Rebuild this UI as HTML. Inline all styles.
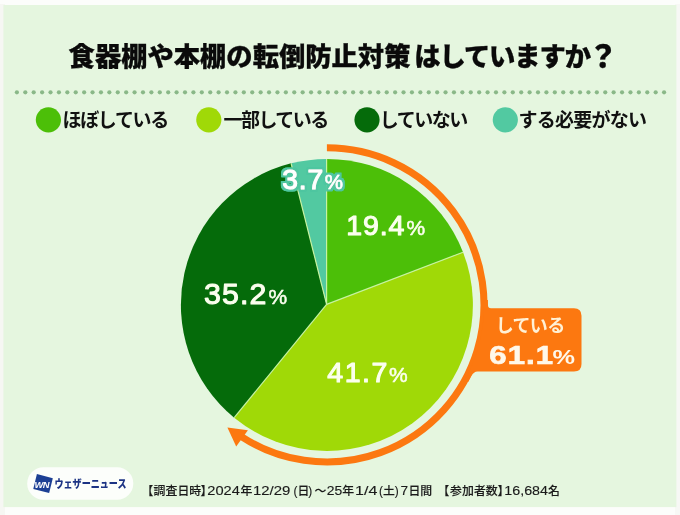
<!DOCTYPE html>
<html lang="ja"><head><meta charset="utf-8"><title>食器棚や本棚の転倒防止対策</title>
<style>
html,body{margin:0;padding:0;background:#fcfdfb;}
body{width:680px;height:515px;overflow:hidden;position:relative;}
svg{display:block;position:absolute;left:0;top:0;filter:blur(0.35px);}
text{font-family:"Liberation Sans","Noto Sans CJK JP",sans-serif;}
.jp{font-family:"Liberation Sans","Noto Sans CJK JP",sans-serif;}
</style></head><body>
<svg width="680" height="515" viewBox="0 0 680 515">
<defs><filter id="ol" x="-10%" y="-20%" width="120%" height="140%"><feMorphology in="SourceAlpha" operator="dilate" radius="2" result="d"/><feGaussianBlur in="d" stdDeviation="0.5" result="db"/><feFlood flood-color="#4fc6a0"/><feComposite in2="db" operator="in" result="o"/><feMerge><feMergeNode in="o"/><feMergeNode in="o"/><feMergeNode in="SourceGraphic"/></feMerge></filter></defs>
<rect x="0" y="0" width="680" height="515" fill="#fcfdfb"/>
<rect x="0" y="4" width="5" height="511" fill="#f6f7f3"/><rect x="675" y="4" width="5" height="511" fill="#f7f8f5"/><rect x="3.4" y="5" width="673" height="502.1" fill="#e5f6df"/>
<text class="jp" y="65.6" font-size="26.3" font-weight="900" fill="#0a0a0a" stroke="#0a0a0a" stroke-width="0.3"><tspan x="68.6">食器棚や本棚の転倒防止対策</tspan><tspan x="414.3" letter-spacing="-1.1">はしていますか</tspan><tspan x="588" y="66.6" font-size="30">？</tspan></text>
<g fill="#8ab888"><circle cx="16.90" cy="92.3" r="2.1"/><circle cx="25.30" cy="92.3" r="2.1"/><circle cx="33.71" cy="92.3" r="2.1"/><circle cx="42.11" cy="92.3" r="2.1"/><circle cx="50.52" cy="92.3" r="2.1"/><circle cx="58.92" cy="92.3" r="2.1"/><circle cx="67.33" cy="92.3" r="2.1"/><circle cx="75.73" cy="92.3" r="2.1"/><circle cx="84.14" cy="92.3" r="2.1"/><circle cx="92.54" cy="92.3" r="2.1"/><circle cx="100.95" cy="92.3" r="2.1"/><circle cx="109.35" cy="92.3" r="2.1"/><circle cx="117.76" cy="92.3" r="2.1"/><circle cx="126.16" cy="92.3" r="2.1"/><circle cx="134.57" cy="92.3" r="2.1"/><circle cx="142.97" cy="92.3" r="2.1"/><circle cx="151.38" cy="92.3" r="2.1"/><circle cx="159.78" cy="92.3" r="2.1"/><circle cx="168.19" cy="92.3" r="2.1"/><circle cx="176.59" cy="92.3" r="2.1"/><circle cx="185.00" cy="92.3" r="2.1"/><circle cx="193.41" cy="92.3" r="2.1"/><circle cx="201.81" cy="92.3" r="2.1"/><circle cx="210.22" cy="92.3" r="2.1"/><circle cx="218.62" cy="92.3" r="2.1"/><circle cx="227.02" cy="92.3" r="2.1"/><circle cx="235.43" cy="92.3" r="2.1"/><circle cx="243.83" cy="92.3" r="2.1"/><circle cx="252.24" cy="92.3" r="2.1"/><circle cx="260.64" cy="92.3" r="2.1"/><circle cx="269.05" cy="92.3" r="2.1"/><circle cx="277.45" cy="92.3" r="2.1"/><circle cx="285.86" cy="92.3" r="2.1"/><circle cx="294.26" cy="92.3" r="2.1"/><circle cx="302.67" cy="92.3" r="2.1"/><circle cx="311.07" cy="92.3" r="2.1"/><circle cx="319.48" cy="92.3" r="2.1"/><circle cx="327.88" cy="92.3" r="2.1"/><circle cx="336.29" cy="92.3" r="2.1"/><circle cx="344.69" cy="92.3" r="2.1"/><circle cx="353.10" cy="92.3" r="2.1"/><circle cx="361.50" cy="92.3" r="2.1"/><circle cx="369.91" cy="92.3" r="2.1"/><circle cx="378.31" cy="92.3" r="2.1"/><circle cx="386.72" cy="92.3" r="2.1"/><circle cx="395.12" cy="92.3" r="2.1"/><circle cx="403.53" cy="92.3" r="2.1"/><circle cx="411.93" cy="92.3" r="2.1"/><circle cx="420.34" cy="92.3" r="2.1"/><circle cx="428.74" cy="92.3" r="2.1"/><circle cx="437.15" cy="92.3" r="2.1"/><circle cx="445.55" cy="92.3" r="2.1"/><circle cx="453.96" cy="92.3" r="2.1"/><circle cx="462.36" cy="92.3" r="2.1"/><circle cx="470.77" cy="92.3" r="2.1"/><circle cx="479.17" cy="92.3" r="2.1"/><circle cx="487.58" cy="92.3" r="2.1"/><circle cx="495.98" cy="92.3" r="2.1"/><circle cx="504.39" cy="92.3" r="2.1"/><circle cx="512.79" cy="92.3" r="2.1"/><circle cx="521.20" cy="92.3" r="2.1"/><circle cx="529.60" cy="92.3" r="2.1"/><circle cx="538.01" cy="92.3" r="2.1"/><circle cx="546.41" cy="92.3" r="2.1"/><circle cx="554.82" cy="92.3" r="2.1"/><circle cx="563.22" cy="92.3" r="2.1"/><circle cx="571.63" cy="92.3" r="2.1"/><circle cx="580.03" cy="92.3" r="2.1"/><circle cx="588.44" cy="92.3" r="2.1"/><circle cx="596.84" cy="92.3" r="2.1"/><circle cx="605.25" cy="92.3" r="2.1"/><circle cx="613.65" cy="92.3" r="2.1"/><circle cx="622.06" cy="92.3" r="2.1"/><circle cx="630.46" cy="92.3" r="2.1"/><circle cx="638.87" cy="92.3" r="2.1"/><circle cx="647.27" cy="92.3" r="2.1"/><circle cx="655.68" cy="92.3" r="2.1"/><circle cx="664.08" cy="92.3" r="2.1"/></g>
<g>
<circle cx="48.4" cy="119.8" r="12.6" fill="#4cbf08"/>
<circle cx="208.8" cy="119.8" r="12.6" fill="#a0d907"/>
<circle cx="367" cy="119.8" r="12.6" fill="#056b0a"/>
<circle cx="505.3" cy="119.8" r="12.6" fill="#52c9a1"/>
</g>
<g font-size="19" font-weight="700" fill="#111">
<text class="jp" x="62.5" y="127" textLength="106.7" lengthAdjust="spacing">ほぼしている</text>
<text class="jp" x="223.5" y="127" textLength="105.7" lengthAdjust="spacing">一部している</text>
<text class="jp" x="379.7" y="127" textLength="88.5" lengthAdjust="spacing">していない</text>
<text class="jp" x="518.5" y="127" textLength="128.5" lengthAdjust="spacing">する必要がない</text>
</g>
<path d="M326.6,304.4 L326.60,158.90 A146,146 0 0 1 463.06,252.21 Z" fill="#4cbf08"/>
<path d="M326.6,304.4 L463.06,252.21 A146,146 0 0 1 234.18,417.68 Z" fill="#a0d907"/>
<path d="M326.6,304.4 L234.18,417.68 A146,146 0 0 1 291.09,163.36 Z" fill="#056b0a"/>
<path d="M326.6,304.4 L291.09,163.36 A146,146 0 0 1 326.60,158.90 Z" fill="#52c9a1"/>
<line x1="326.6" y1="304.4" x2="326.60" y2="158.90" stroke="#c6f2a0" stroke-width="1.2"/>
<line x1="326.6" y1="304.4" x2="463.06" y2="252.21" stroke="#c6f2a0" stroke-width="1.2"/>
<line x1="326.6" y1="304.4" x2="234.18" y2="417.68" stroke="#c6f2a0" stroke-width="1.2"/>
<line x1="326.6" y1="304.4" x2="291.09" y2="163.36" stroke="#c6f2a0" stroke-width="1.2"/>

<path d="M326.90,147.80 A157.1,157.1 0 1 1 240.19,435.90" fill="none" stroke="#fc7810" stroke-width="7.1"/>
<polygon points="227.4,427.6 247.9,430.2 236.2,446.5" fill="#fc7810"/>
<path d="M483.92,300 L487.9,300 L488,305.3 Q488,308.3 491,308.3 L574,308.3 Q581.5,308.3 581.5,315.8 L581.5,364 Q581.5,371.5 574,371.5 L477.5,371.5 Q473.8,371.5 471.4,376 L468.2,382 L463.78,382 A157.1,157.1 0 0 0 483.92,300 Z" fill="#fc7810"/>
<g fill="#fbffee" font-weight="400" stroke="#fbffee" stroke-width="1.1" stroke-linejoin="round">
<text x="346.3" y="234.7" font-size="28.5" letter-spacing="0.9">19.4<tspan font-size="21" dx="1" stroke-width="0.5">%</tspan></text>
<text x="327.2" y="382.2" font-size="28.5" letter-spacing="1.6">41.7<tspan font-size="21" dx="0" stroke-width="0.5">%</tspan></text>
<text x="204" y="304.2" font-size="30.3" letter-spacing="1.1">35.2<tspan font-size="21" dx="1" stroke-width="0.5">%</tspan></text>
</g>
<text x="282.3" y="189.2" font-size="28.2" font-weight="400" fill="#ffffff" stroke="#ffffff" stroke-width="1" stroke-linejoin="round" letter-spacing="0.9" filter="url(#ol)">3.7<tspan font-size="20.5" dx="0.5" stroke-width="0.5">%</tspan></text>
<text class="jp" x="495.7" y="332.3" font-size="18" font-weight="700" fill="#fff1d6" textLength="69.5" lengthAdjust="spacing">している</text>
<text transform="translate(0,363.8) scale(1.22,1)" x="401.07" y="0" font-size="25.5" font-weight="700" fill="#fff8ea" stroke="#fff8ea" stroke-width="0.7" letter-spacing="0.9">61.1</text>
<text x="552.6" y="363.8" font-size="19.5" font-weight="700" fill="#fff8ea" textLength="22.5" lengthAdjust="spacingAndGlyphs">%</text>
<rect x="27.2" y="467.3" width="106.1" height="32.5" rx="16.25" fill="#fcfefb"/>
<polygon points="36.9,473.9 52.8,478.2 49.1,493.1 33.3,489.1" fill="#1c3f94"/>
<text x="34.4" y="488.2" font-size="9.4" font-weight="700" font-style="italic" fill="#fff" letter-spacing="-0.6">WN</text>
<text class="jp" x="54.5" y="488.4" font-size="11" font-weight="900" fill="#1c3384" textLength="72" lengthAdjust="spacingAndGlyphs">ウェザーニュース</text>
<text y="495.3" font-size="11.9" font-weight="500" fill="#1a1a1a" stroke="#1a1a1a" stroke-width="0.12"><tspan class="jp" x="141.6">【</tspan><tspan class="jp" x="153.6">調査日時</tspan><tspan class="jp" x="200.4">】</tspan><tspan x="207.3" textLength="32.5" lengthAdjust="spacingAndGlyphs">2024</tspan><tspan class="jp" x="240.5">年</tspan><tspan x="253" textLength="37.3" lengthAdjust="spacingAndGlyphs">12/29</tspan><tspan x="293.6">(</tspan><tspan class="jp" x="297.4">日</tspan><tspan x="308.3">)</tspan><tspan class="jp" x="314.5">～</tspan><tspan x="326.8" textLength="15.5" lengthAdjust="spacingAndGlyphs">25</tspan><tspan class="jp" x="342.2">年</tspan><tspan x="355" textLength="22.3" lengthAdjust="spacingAndGlyphs">1/4</tspan><tspan x="378.9">(</tspan><tspan class="jp" x="382.9">土</tspan><tspan x="394.8">)</tspan><tspan x="400.4" textLength="7.6" lengthAdjust="spacingAndGlyphs">7</tspan><tspan class="jp" x="408.4">日間</tspan><tspan class="jp" x="437.4">【</tspan><tspan class="jp" x="450.1">参加者数</tspan><tspan class="jp" x="497.4">】</tspan><tspan x="504.3" textLength="43.7" lengthAdjust="spacingAndGlyphs">16,684</tspan><tspan class="jp" x="548">名</tspan></text>
</svg>
</body></html>
